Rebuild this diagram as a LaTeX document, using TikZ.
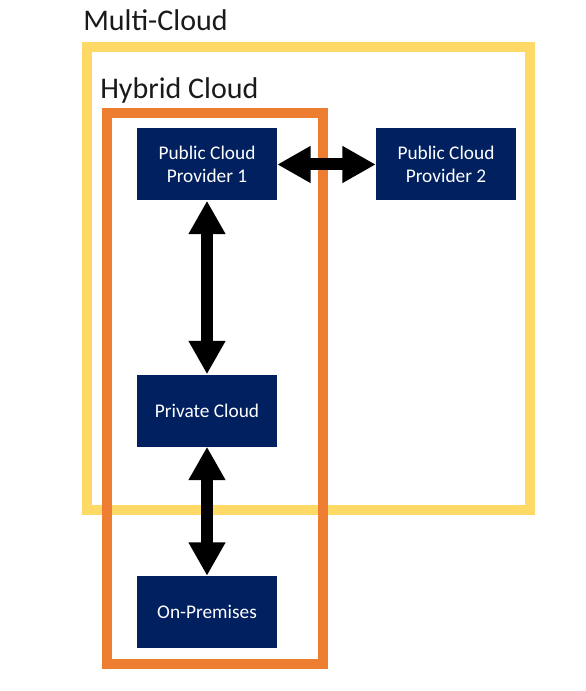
\documentclass[tikz,border=0pt]{standalone}
\usepackage{fontspec}
\setmainfont{Carlito}
\usetikzlibrary{arrows.meta}

\begin{document}
\begin{tikzpicture}[x=0.75pt,y=-0.75pt,
	cloudbox/.style={fill=boxblue, text=white, minimum width=105pt, minimum height=54pt,
		align=center, inner sep=0pt, font=\fontsize{14.5}{17.5}\selectfont},
	heading/.style={anchor=base west, inner sep=0pt, text=headgray, font=\fontsize{22.5}{27}\selectfont},
	link/.style={line width=9pt, {Triangle[width=26pt,length=25pt]}-{Triangle[width=26pt,length=25pt]}}]
	\definecolor{boxblue}{HTML}{002060}
	\definecolor{multiyellow}{HTML}{FFD966}
	\definecolor{hybridorange}{HTML}{ED7D31}
	\definecolor{headgray}{HTML}{1A1A1A}
	\useasboundingbox (0,0) rectangle (585,691);
	% frames
	\draw[multiyellow, line width=7.5pt] (87,47) rectangle (530,510);
	\draw[hybridorange, line width=7.5pt] (107,113) rectangle (323,664);
	\node[heading] (multi) at (83,31) {Multi-Cloud};
	\node[heading] (hybrid) at (100,99) {Hybrid Cloud};
	% boxes
	\node[cloudbox] (pubA) at (207,164.5) {Public Cloud\\Provider 1};
	\node[cloudbox] (pubB) at (446,164.5) {Public Cloud\\Provider 2};
	\node[cloudbox] (priv) at (207,410.5) {Private Cloud};
	\node[cloudbox] (onprem) at (207,612) {On-Premises};
	% links
	\draw[link] (pubA.east) -- (pubB.west);
	\draw[link] (pubA.south) -- (priv.north);
	\draw[link] (priv.south) -- (onprem.north);
\end{tikzpicture}
\end{document}
